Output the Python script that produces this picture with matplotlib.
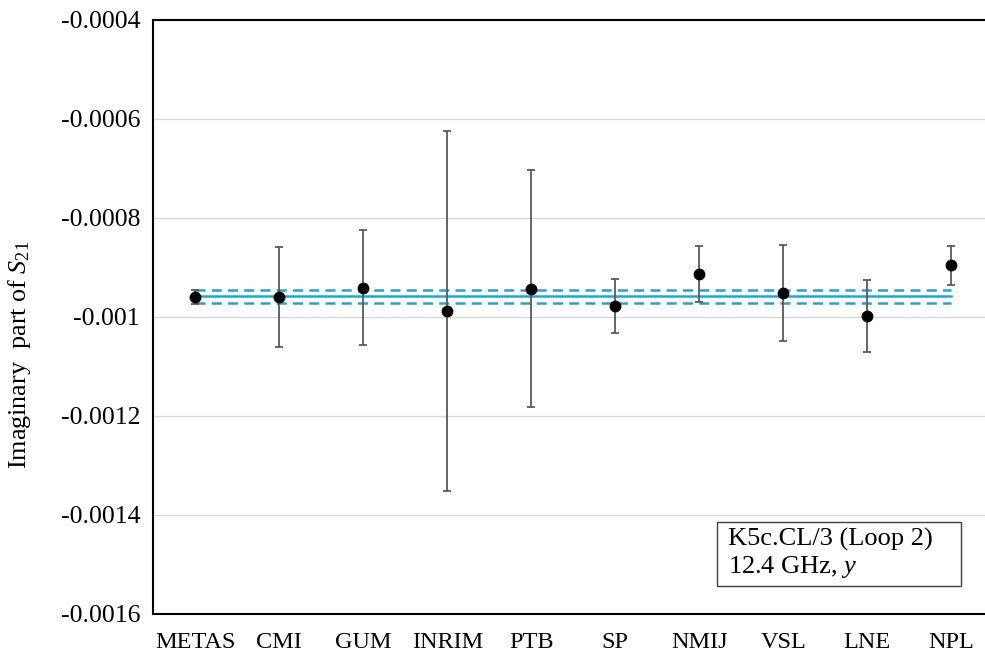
import numpy as np
import matplotlib.pyplot as plt
from matplotlib.patches import Rectangle

plt.rcParams['font.family'] = ['Liberation Serif', 'DejaVu Serif']
plt.rcParams['mathtext.fontset'] = 'custom'
plt.rcParams['mathtext.rm'] = 'Liberation Serif'
plt.rcParams['mathtext.it'] = 'Liberation Serif:italic'

# laboratoires et valeurs
labos = ["METAS", "CMI", "GUM", "INRIM", "PTB", "SP", "NMIJ", "VSL", "LNE", "NPL"]
valeurs = [-0.000960, -0.000960, -0.000941, -0.000988, -0.000943,
           -0.000979, -0.000914, -0.000952, -0.000999, -0.000896]
incertitudes = [0.000014, 0.000101, 0.000116, 0.000364, 0.000240,
                0.0000545, 0.0000566, 0.000097, 0.0000725, 0.000039]

# valeur de référence et sa bande d'incertitude
ref = -0.000959
ref_u = 0.0000135

yticks = [-0.0004, -0.0006, -0.0008, -0.001, -0.0012, -0.0014, -0.0016]
ytick_labels = ["-0.0004", "-0.0006", "-0.0008", "-0.001", "-0.0012", "-0.0014", "-0.0016"]

fig = plt.figure(figsize=(9.85, 6.54), dpi=100)
ax = fig.add_axes([0.1556, 0.0612, 0.8444, 0.9088])

x = np.arange(len(labos))

ax.plot([x[0], x[-1]], [ref, ref], color='#1ea6d9', lw=1.8, zorder=2)
ax.plot([x[0], x[-1]], [ref + ref_u, ref + ref_u], color='#2f9fc4', lw=1.8, ls=(0, (4, 2.5)), zorder=2)
ax.plot([x[0], x[-1]], [ref - ref_u, ref - ref_u], color='#2f9fc4', lw=1.8, ls=(0, (4, 2.5)), zorder=2)

ax.errorbar(x, valeurs, yerr=incertitudes, fmt='o', color='black', ms=7.5,
            ecolor='#595959', elinewidth=1.3, capsize=2.6, capthick=1.3, zorder=3)

ax.set_xlim(-0.5, 9.4)
ax.set_ylim(-0.0016, -0.0004)
ax.set_yticks(yticks)
ax.set_yticklabels(ytick_labels, fontsize=18.5)
ax.set_xticks(x)
ax.set_xticklabels(labos, fontsize=17.5)
ax.tick_params(axis='x', length=0, pad=13)
ax.tick_params(axis='y', length=0, pad=9.5)

ax.grid(axis='y', color='#d9d9d9', lw=1)
ax.set_axisbelow(True)
for s in ['top', 'left', 'bottom']:
    ax.spines[s].set_color('black')
    ax.spines[s].set_linewidth(1.5)
ax.spines['right'].set_visible(False)

ax.set_ylabel(r"Imaginary  part of $\mathit{S}_{\mathrm{21}}$", fontsize=18.8)
ax.yaxis.set_label_coords(-0.145, 0.436)

# encadré
ax.add_patch(Rectangle((0.678, 0.047), 0.293, 0.108, transform=ax.transAxes,
                       fc='white', ec='#404040', lw=1, zorder=4))
ax.text(0.691, 0.101, "K5c.CL/3 (Loop 2)\n12.4 GHz, $\\mathit{y}$", transform=ax.transAxes,
        fontsize=19, linespacing=1.13, va='center', ha='left', zorder=5)

fig.savefig("out.png", dpi=100)
